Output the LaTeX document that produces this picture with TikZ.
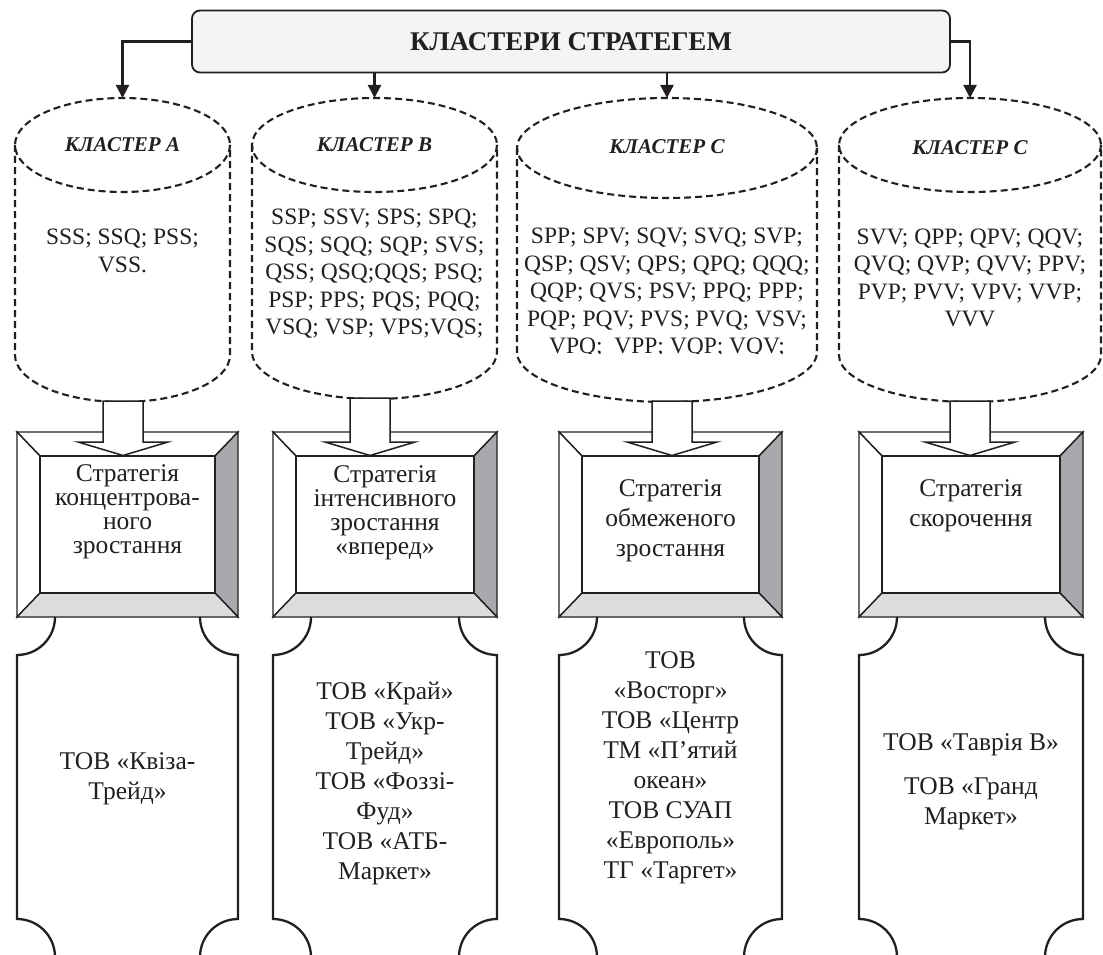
\documentclass[tikz,border=0pt]{standalone}
\usepackage{fontspec}
\setmainfont{Liberation Serif}
\usepackage{graphicx}
\usetikzlibrary{arrows.meta}
\definecolor{ink}{HTML}{231F20}
\definecolor{titlefill}{HTML}{F3F4F6}
\definecolor{darkface}{HTML}{A7A9AC}
\definecolor{lightface}{HTML}{DCDDDE}
\tikzset{
  titlebox/.style={draw=ink, line width=1.8pt, fill=titlefill, rounded corners=8pt,
    minimum width=758pt, minimum height=62pt, inner sep=0pt, text=ink,
    font=\bfseries\fontsize{27}{30}\selectfont},
  conn/.style={draw=ink, line width=2.3pt, -{Triangle[width=13pt,length=13pt]}},
  cylline/.style={draw=ink, line width=2.1pt, dash pattern=on 7pt off 4pt},
  cylhead/.style={text=ink, inner sep=0pt, font=\bfseries\itshape\fontsize{21}{24}\selectfont},
  cyltext/.style={text=ink, inner sep=0pt, align=center, font=\fontsize{23.5}{27.5}\selectfont},
  blockarr/.style={draw=ink, line width=1.5pt, fill=white, line join=miter},
  bev/.style={draw=ink, line width=1.4pt},
  bevtext/.style={text=ink, inner sep=0pt, align=center, font=\fontsize{25.5}{24}\selectfont},
  bevtextwide/.style={text=ink, inner sep=0pt, align=center, font=\fontsize{25.5}{30}\selectfont},
  scrl/.style={draw=ink, line width=2.3pt},
  scrtext/.style={text=ink, inner sep=0pt, align=center, font=\fontsize{25.5}{30}\selectfont},
}
% cylinder: cx, y of top ellipse centre, y of bottom ellipse centre, rx, ry, name
\newcommand{\mycyl}[6]{%
  \draw[cylline] (#1,#2) ellipse[x radius=#4, y radius=#5];
  \draw[cylline] ({#1-#4},#2) -- ({#1-#4},#3)
     arc[start angle=180, end angle=0, x radius=#4, y radius=#5] -- ({#1+#4},#2);
  \coordinate (#6top) at (#1,{#2-#5});
  \coordinate (#6bot) at (#1,{#3+#5});
}
% bevel box: x0, x1
\newcommand{\mybevel}[2]{%
  \filldraw[bev, fill=white] (#1,432) -- (#2,432) -- ({#2-23},456) -- ({#1+23},456) -- cycle;
  \filldraw[bev, fill=white] (#1,432) -- ({#1+23},456) -- ({#1+23},593) -- (#1,617) -- cycle;
  \filldraw[bev, fill=darkface] (#2,432) -- (#2,617) -- ({#2-23},593) -- ({#2-23},456) -- cycle;
  \filldraw[bev, fill=lightface] (#1,617) -- (#2,617) -- ({#2-23},593) -- ({#1+23},593) -- cycle;
  \filldraw[bev, fill=white] ({#1+23},456) rectangle ({#2-23},593);
}
% hollow block arrow: cx, y top
\newcommand{\myarrow}[2]{%
  \filldraw[blockarr] ({#1-20},#2) -- ({#1+20},#2) -- ({#1+20},442) -- ({#1+45},442)
    -- (#1,455.5) -- ({#1-45},442) -- ({#1-20},442) -- cycle;
}
% scroll: x0, x1
\newcommand{\myscroll}[2]{%
  \draw[scrl] ({#1+38},617) arc[start angle=0, end angle=90, radius=38] -- (#1,919)
     arc[start angle=270, end angle=360, radius=38];
  \draw[scrl] ({#2-38},617) arc[start angle=180, end angle=90, radius=38] -- (#2,919)
     arc[start angle=270, end angle=180, radius=38];
}
\begin{document}
\begin{tikzpicture}[x=1pt, y=1pt, yscale=-1]
\useasboundingbox (0,0) rectangle (1103,955);

% title
\node[titlebox] (title) at (571,41.5) {КЛАСТЕРИ СТРАТЕГЕМ};

% cylinders
\mycyl{122.5}{145}{355}{107.5}{47}{cA}
\mycyl{374.5}{145}{352}{122.5}{47}{cB}
\mycyl{667}{148}{352}{150}{50}{cC}
\mycyl{970}{145}{355}{131}{47}{cD}

\node[cylhead] (hA) at (122.5,145) {КЛАСТЕР А};
\node[cylhead] (hB) at (374.5,145) {КЛАСТЕР В};
\node[cylhead] (hC) at (667,147) {КЛАСТЕР С};
\node[cylhead] (hD) at (970,148) {КЛАСТЕР С};

\node[cyltext] (tA) at (122.5,251) {SSS; SSQ; PSS;\\VSS.};
\node[cyltext] (tB) at (374.5,274) {SSP; SSV; SPS; SPQ;\\SQS; SQQ; SQP; SVS;\\QSS; QSQ;QQS; PSQ;\\PSP; PPS; PQS; PQQ;\\VSQ; VSP; VPS;VQS;};
\node[cyltext] (tC) at (667,279) {SPP; SPV; SQV; SVQ; SVP;\\QSP; QSV; QPS; QPQ; QQQ;\\QQP; QVS; PSV; PPQ; PPP;\\PQP; PQV; PVS; PVQ; VSV;};
\begin{scope}
  \clip (520,320) rectangle (815,353.8);
  \node[cyltext, anchor=base] (tC5) at (667,353.5) {VPQ;\ \ VPP; VQP; VQV;};
\end{scope}
\node[cyltext] (tD) at (970,278) {SVV; QPP; QPV; QQV;\\QVQ; QVP; QVV; PPV;\\PVP; PVV; VPV; VVP;\\VVV};

% connectors from title
\draw[conn] (title.west) -| (cAtop);
\draw[conn] (title.south -| cBtop) -- (cBtop);
\draw[conn] (title.south -| cCtop) -- (cCtop);
\draw[conn] (title.east) -| (cDtop);

% bevel boxes
\mybevel{17}{238}
\mybevel{273}{497}
\mybevel{559}{782}
\mybevel{859}{1083}

% hollow arrows
\myarrow{123}{401}
\myarrow{370}{398}
\myarrow{672}{401}
\myarrow{970}{401}

\node[bevtext] (sA) at (127.5,512) {Стратегія\\концентрова-\\ного\\зростання};
\node[bevtext] (sB) at (385,513) {Стратегія\\інтенсивного\\зростання\\«вперед»};
\node[bevtextwide] (sC) at (670.5,521) {Стратегія\\обмеженого\\зростання};
\node[bevtextwide] (sD) at (971,506) {Стратегія\\скорочення};

% scrolls
\myscroll{17}{238}
\myscroll{273}{497}
\myscroll{559}{782}
\myscroll{859}{1083}

\node[scrtext] (oA) at (127.5,779) {ТОВ «Квіза-\\Трейд»};
\node[scrtext] (oB) at (385,783) {ТОВ «Край»\\ТОВ «Укр-\\Трейд»\\ТОВ «Фоззі-\\Фуд»\\ТОВ «АТБ-\\Маркет»};
\node[scrtext] (oC) at (670.5,768) {ТОВ\\«Восторг»\\ТОВ «Центр\\ТМ «П’ятий\\океан»\\ТОВ СУАП\\«Европоль»\\ТГ «Таргет»};
\node[scrtext] (oD) at (971,782) {ТОВ «Таврія В»\\[14pt]ТОВ «Гранд\\Маркет»};
\end{tikzpicture}
\end{document}
